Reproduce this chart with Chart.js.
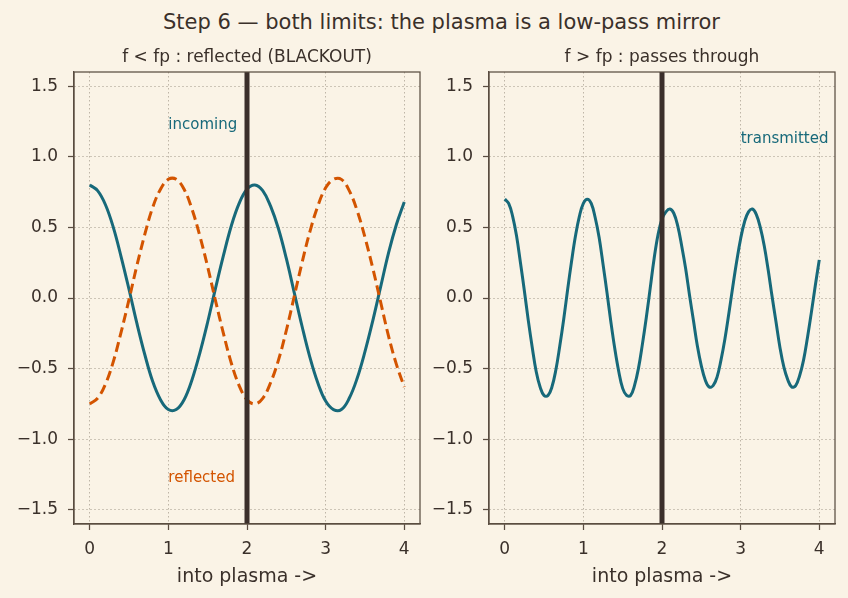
<!DOCTYPE html>
<html>
<head>
<meta charset="utf-8">
<script src="https://cdn.jsdelivr.net/npm/chart.js@4.4.1/dist/chart.umd.min.js"></script>
<style>
  html, body { margin: 0; padding: 0; background: #faf3e6; }
  #fig { position: relative; width: 848px; height: 598px; overflow: hidden; background: #faf3e6; }
  #suptitle {
    position: absolute; left: 0; top: 12px; width: 883px;
    text-align: center; font: 21px "DejaVu Sans", sans-serif; line-height: 21px; color: #3a302a;
  }
  canvas { position: absolute; top: 0; }
  #panelLeft { left: 0; }
  #panelRight { left: 424px; }
</style>
</head>
<body>
<div id="fig">
  <div id="suptitle">Step 6 — both limits: the plasma is a low-pass mirror</div>
  <canvas id="panelLeft" width="424" height="598"></canvas>
  <canvas id="panelRight" width="424" height="598"></canvas>
</div>
<script>
// ── data ────────────────────────────────────────────────
const xTicks = [0, 1, 2, 3, 4];
const yTicks = [-1.5, -1.0, -0.5, 0.0, 0.5, 1.0, 1.5];
const boundaryX = [2];

// left panel: f < fp
const xLeft = [0, 0.1, 0.2, 0.3, 0.4, 0.5, 0.6, 0.7, 0.8, 0.9,
  1.0, 1.1, 1.2, 1.3, 1.4, 1.5, 1.6, 1.7, 1.8, 1.9,
  2.0, 2.1, 2.2, 2.3, 2.4, 2.5, 2.6, 2.7, 2.8, 2.9,
  3.0, 3.1, 3.2, 3.3, 3.4, 3.5, 3.6, 3.7, 3.8, 3.9, 4.0];
const incoming = [0.80, 0.76, 0.66, 0.50, 0.29, 0.06, -0.18, -0.40, -0.59, -0.72,
  -0.79, -0.79, -0.72, -0.58, -0.39, -0.17, 0.07, 0.30, 0.51, 0.67,
  0.77, 0.80, 0.76, 0.65, 0.49, 0.28, 0.04, -0.20, -0.42, -0.60,
  -0.73, -0.79, -0.79, -0.71, -0.57, -0.38, -0.16, 0.08, 0.32, 0.52, 0.68];
const reflected = [-0.75, -0.71, -0.61, -0.45, -0.24, -0.01, 0.23, 0.45, 0.64, 0.77,
  0.84, 0.84, 0.77, 0.63, 0.44, 0.22, -0.02, -0.25, -0.46, -0.62,
  -0.72, -0.75, -0.71, -0.60, -0.44, -0.23, 0.01, 0.25, 0.47, 0.65,
  0.78, 0.84, 0.84, 0.76, 0.62, 0.43, 0.21, -0.03, -0.27, -0.47, -0.63];

// right panel: f > fp
const xRight = [0, 0.05, 0.1, 0.15, 0.2, 0.25, 0.3, 0.35, 0.4, 0.45,
  0.5, 0.55, 0.6, 0.65, 0.7, 0.75, 0.8, 0.85, 0.9, 0.95,
  1.0, 1.05, 1.1, 1.15, 1.2, 1.25, 1.3, 1.35, 1.4, 1.45,
  1.5, 1.55, 1.6, 1.65, 1.7, 1.75, 1.8, 1.85, 1.9, 1.95,
  2.0, 2.05, 2.1, 2.15, 2.2, 2.25, 2.3, 2.35, 2.4, 2.45,
  2.5, 2.55, 2.6, 2.65, 2.7, 2.75, 2.8, 2.85, 2.9, 2.95,
  3.0, 3.05, 3.1, 3.15, 3.2, 3.25, 3.3, 3.35, 3.4, 3.45,
  3.5, 3.55, 3.6, 3.65, 3.7, 3.75, 3.8, 3.85, 3.9, 3.95, 4.0];
const transmitted = [0.70, 0.67, 0.58, 0.44, 0.25, 0.05, -0.16, -0.35, -0.52, -0.63,
  -0.69, -0.69, -0.63, -0.51, -0.34, -0.15, 0.06, 0.26, 0.44, 0.58,
  0.67, 0.70, 0.67, 0.57, 0.43, 0.24, 0.04, -0.17, -0.36, -0.52,
  -0.64, -0.69, -0.69, -0.62, -0.50, -0.33, -0.14, 0.07, 0.28, 0.45,
  0.56, 0.61, 0.63, 0.60, 0.51, 0.37, 0.21, 0.02, -0.16, -0.34,
  -0.48, -0.58, -0.63, -0.62, -0.56, -0.44, -0.29, -0.11, 0.08, 0.26,
  0.42, 0.54, 0.61, 0.63, 0.59, 0.50, 0.37, 0.20, 0.01, -0.17,
  -0.35, -0.49, -0.58, -0.63, -0.62, -0.55, -0.44, -0.28, -0.10, 0.09, 0.27];

// ── styling ─────────────────────────────────────────────
const FONT = '"DejaVu Sans", sans-serif';
const INK = '#3a302a';
const SPINE = '#5a4d41';
const GRIDC = 'rgba(150,140,125,0.6)';
const TEAL = '#17697a';
const ORANGE = '#d35400';
const WALL = '#3b2f2b';

const pts = (xs, ys) => xs.map((x, i) => ({ x, y: ys[i] }));

const figText = {
  id: 'figText',
  afterDraw(chart, args, opts) {
    const { ctx, chartArea: a, scales } = chart;
    ctx.save();
    ctx.strokeStyle = SPINE;
    ctx.lineWidth = 1.25;
    ctx.strokeRect(a.left, a.top, a.right - a.left, a.bottom - a.top);
    (opts.items || []).forEach(t => {
      ctx.font = t.font;
      ctx.fillStyle = t.color;
      ctx.textAlign = t.align || 'left';
      ctx.textBaseline = 'alphabetic';
      const x = t.data ? scales.x.getPixelForValue(t.x) : (a.left + a.right) / 2;
      const y = t.data ? scales.y.getPixelForValue(t.y) : t.y;
      ctx.fillText(t.text, x, y);
    });
    ctx.restore();
  }
};

function wallDataset() {
  return {
    data: [{ x: boundaryX[0], y: -1.6 }, { x: boundaryX[0], y: 1.6 }],
    borderColor: WALL, borderWidth: 5, pointRadius: 0, order: 0
  };
}

function makePanel(canvasId, yAxisWidth, padRight, datasets, texts) {
  const ctx = document.getElementById(canvasId).getContext('2d');
  return new Chart(ctx, {
    type: 'line',
    data: { datasets },
    options: {
      responsive: false,
      animation: false,
      layout: { padding: { top: 72, right: padRight, bottom: 0, left: 0 } },
      plugins: {
        legend: { display: false },
        tooltip: { enabled: false },
        figText: { items: texts }
      },
      elements: { line: { tension: 0.4 } },
      scales: {
        x: {
          type: 'linear', min: -0.2, max: 4.2,
          afterBuildTicks: s => { s.ticks = xTicks.map(v => ({ value: v })); },
          afterFit: s => { s.height = 74; },
          grid: { color: GRIDC, lineWidth: 1, tickLength: 6, tickColor: SPINE, tickWidth: 1.25 },
          border: { display: true, color: SPINE, width: 1.25, dash: [1.5, 2.5] },
          ticks: { color: INK, font: { family: FONT, size: 17 }, padding: 9, maxRotation: 0,
                   callback: v => String(v) }
        },
        y: {
          type: 'linear', min: -1.6, max: 1.6,
          afterBuildTicks: s => { s.ticks = yTicks.map(v => ({ value: v })); },
          afterFit: s => { s.width = yAxisWidth; },
          grid: { color: GRIDC, lineWidth: 1, tickLength: 6, tickColor: SPINE, tickWidth: 1.25 },
          border: { display: true, color: SPINE, width: 1.25, dash: [1.5, 2.5] },
          ticks: { color: INK, font: { family: FONT, size: 17 }, padding: 10,
                   callback: v => (v < 0 ? '\u2212' : '') + Math.abs(v).toFixed(1) }
        }
      }
    },
    plugins: [figText]
  });
}

const xLabel = { text: 'into plasma ->', y: 582, font: '19px ' + FONT, color: INK, align: 'center' };

makePanel('panelLeft', 74, 4, [
  wallDataset(),
  { data: pts(xLeft, reflected), borderColor: ORANGE, borderWidth: 3, borderDash: [10, 5],
    pointRadius: 0, order: 1 },
  { data: pts(xLeft, incoming), borderColor: TEAL, borderWidth: 3, pointRadius: 0, order: 2 }
], [
  { text: 'f < fp : reflected (BLACKOUT)', y: 62, font: '17px ' + FONT, color: INK, align: 'center' },
  xLabel,
  { text: 'incoming', data: true, x: 1.0, y: 1.2, font: '15px ' + FONT, color: TEAL },
  { text: 'reflected', data: true, x: 1.0, y: -1.3, font: '15px ' + FONT, color: ORANGE }
]);

makePanel('panelRight', 65, 13, [
  wallDataset(),
  { data: pts(xRight, transmitted), borderColor: TEAL, borderWidth: 3, pointRadius: 0, order: 1 }
], [
  { text: 'f > fp : passes through', y: 62, font: '17px ' + FONT, color: INK, align: 'center' },
  xLabel,
  { text: 'transmitted', data: true, x: 3.0, y: 1.1, font: '15px ' + FONT, color: TEAL }
]);
</script>
</body>
</html>
